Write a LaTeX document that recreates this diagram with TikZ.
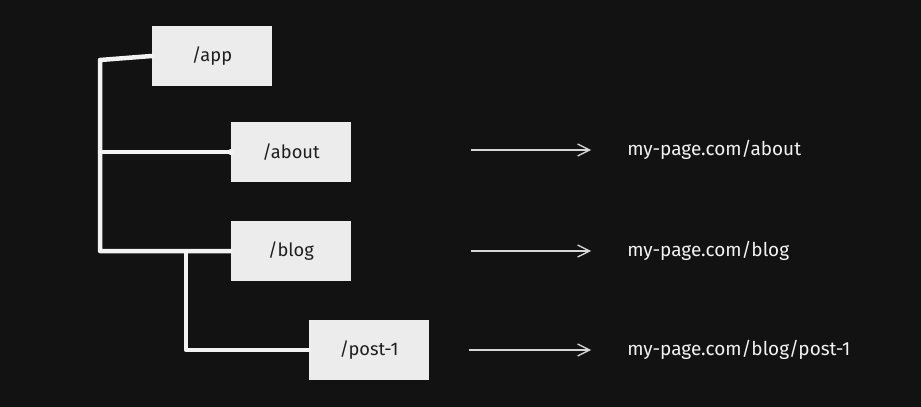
\documentclass[tikz,border=0pt]{standalone}
\usepackage{fontspec}
\setmainfont{Fira Sans}
\usetikzlibrary{arrows.meta, positioning}
\definecolor{night}{HTML}{121212}
\definecolor{paper}{HTML}{ECECEC}
\definecolor{ink}{HTML}{1E1E1E}
\definecolor{chalk}{HTML}{F2F2F2}
\definecolor{wire}{HTML}{D6D6D6}
\tikzset{
  page/.style={
    rectangle, draw=none, fill=paper,
    minimum width=3cm, minimum height=1.5cm,
    align=center, text=ink, font=\fontsize{13}{15}\selectfont
  },
  url/.style={anchor=west, inner sep=0pt, text=chalk, font=\fontsize{13.5}{16}\selectfont},
  branch/.style={draw=chalk, line width=3.2pt, line cap=round, line join=round},
  arrow/.style={-{Straight Barb[length=3mm,width=3mm]}, line width=0.9pt, draw=wire},
}
\begin{document}
\begin{tikzpicture}[x=0.025cm, y=-0.025cm]
  % background fixes the page size
  \fill[night] (0,0) rectangle (921,407);

  % folder tree
  \node[page] (app) at (212,56) {/app};
  \node[page] (about) at (291,152) {/about};
  \node[page] (blog) at (291,251) {/blog};
  \node[page] (post) at (369,350) {/post-1};

  \coordinate (root) at (100,60);
  \coordinate (sub) at (186,252);
  \draw[branch] (app.west) -- (root) |- (blog.west);
  \draw[branch] (root |- about.west) -- (about.west);
  \draw[branch] (sub) |- (post.west);
  \fill[chalk] (about.west) circle (3);

  % resulting routes
  \node[url] (about url) at (627,150) {my-page.com/about};
  \node[url] (blog url) at (627,251) {my-page.com/blog};
  \node[url] (post url) at (627,350) {my-page.com/blog/post-1};

  \draw[arrow] ([xshift=120*0.025cm]about.east |- about url.west) -- ([xshift=-36*0.025cm]about url.west);
  \draw[arrow] ([xshift=120*0.025cm]blog.east) -- ([xshift=-36*0.025cm]blog url.west);
  \draw[arrow] ([xshift=40*0.025cm]post.east) -- ([xshift=-36*0.025cm]post url.west);
\end{tikzpicture}
\end{document}
